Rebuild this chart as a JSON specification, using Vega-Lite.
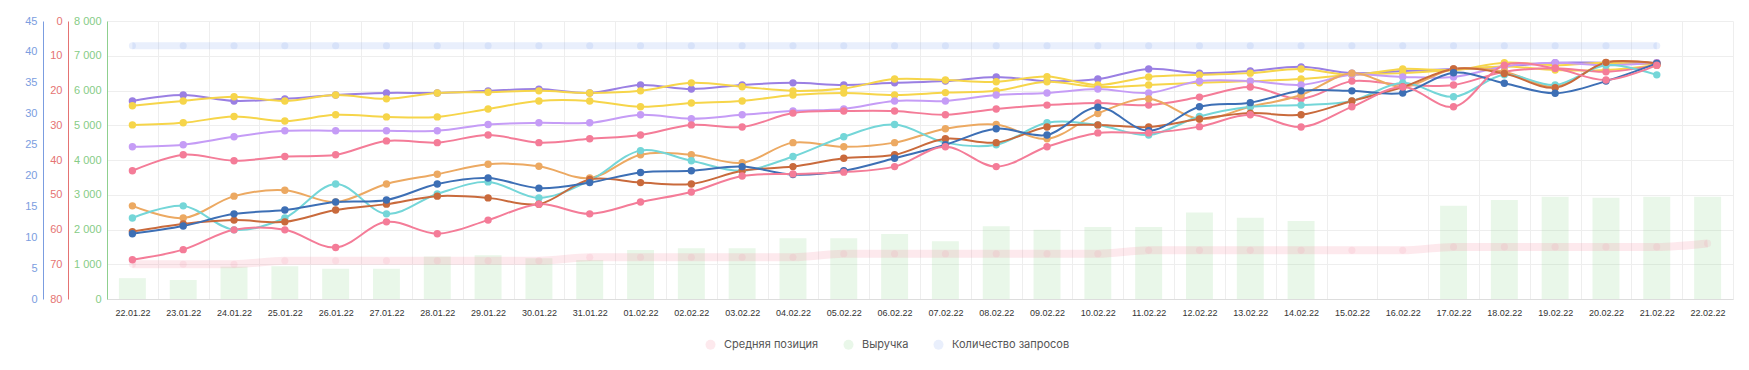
{
  "$schema": "https://vega.github.io/schema/vega-lite/v6.json",
  "width": 1626,
  "height": 278,
  "autosize": {"type": "none"},
  "padding": {"left": 107, "top": 21, "right": 16, "bottom": 71},
  "background": "white",
  "config": {
    "view": {"stroke": null},
    "font": "Liberation Sans",
    "axis": {"ticks": false, "tickSize": 0, "title": null}
  },
  "datasets": {
    "main": [
      {"d": "22.01.22", "rev": 600, "pos": 70, "q": 41},
      {"d": "23.01.22", "rev": 550, "pos": 70, "q": 41},
      {"d": "24.01.22", "rev": 930, "pos": 70, "q": 41},
      {"d": "25.01.22", "rev": 940, "pos": 69, "q": 41},
      {"d": "26.01.22", "rev": 870, "pos": 69, "q": 41},
      {"d": "27.01.22", "rev": 870, "pos": 69, "q": 41},
      {"d": "28.01.22", "rev": 1220, "pos": 69, "q": 41},
      {"d": "29.01.22", "rev": 1260, "pos": 69, "q": 41},
      {"d": "30.01.22", "rev": 1170, "pos": 69, "q": 41},
      {"d": "31.01.22", "rev": 1120, "pos": 68, "q": 41},
      {"d": "01.02.22", "rev": 1410, "pos": 68, "q": 41},
      {"d": "02.02.22", "rev": 1460, "pos": 68, "q": 41},
      {"d": "03.02.22", "rev": 1460, "pos": 68, "q": 41},
      {"d": "04.02.22", "rev": 1750, "pos": 68, "q": 41},
      {"d": "05.02.22", "rev": 1750, "pos": 67, "q": 41},
      {"d": "06.02.22", "rev": 1870, "pos": 67, "q": 41},
      {"d": "07.02.22", "rev": 1660, "pos": 67, "q": 41},
      {"d": "08.02.22", "rev": 2090, "pos": 67, "q": 41},
      {"d": "09.02.22", "rev": 1990, "pos": 67, "q": 41},
      {"d": "10.02.22", "rev": 2070, "pos": 67, "q": 41},
      {"d": "11.02.22", "rev": 2070, "pos": 66, "q": 41},
      {"d": "12.02.22", "rev": 2490, "pos": 66, "q": 41},
      {"d": "13.02.22", "rev": 2340, "pos": 66, "q": 41},
      {"d": "14.02.22", "rev": 2245, "pos": 66, "q": 41},
      {"d": "15.02.22", "rev": 0, "pos": 66, "q": 41},
      {"d": "16.02.22", "rev": 0, "pos": 66, "q": 41},
      {"d": "17.02.22", "rev": 2685, "pos": 65, "q": 41},
      {"d": "18.02.22", "rev": 2850, "pos": 65, "q": 41},
      {"d": "19.02.22", "rev": 2945, "pos": 65, "q": 41},
      {"d": "20.02.22", "rev": 2915, "pos": 65, "q": 41},
      {"d": "21.02.22", "rev": 2945, "pos": 65, "q": 41},
      {"d": "22.02.22", "rev": 2945, "pos": 64}
    ],
    "lines": [
      {"d": "22.01.22", "a": 23.0, "b": 24.4, "c": 29.9, "e": 36.2, "f": 43.1, "g": 53.2, "h": 56.7, "i": 60.6, "j": 61.2, "k": 68.7},
      {"d": "23.01.22", "a": 21.3, "b": 23.0, "c": 29.3, "e": 35.6, "f": 38.5, "g": 56.7, "h": 53.2, "i": 58.4, "j": 59.0, "k": 65.8},
      {"d": "24.01.22", "a": 23.0, "b": 21.8, "c": 27.5, "e": 33.3, "f": 40.2, "g": 50.4, "h": 60.1, "i": 57.3, "j": 55.5, "k": 60.1},
      {"d": "25.01.22", "a": 22.4, "b": 23.0, "c": 28.8, "e": 31.6, "f": 39.0, "g": 48.7, "h": 56.7, "i": 57.8, "j": 54.4, "k": 60.1},
      {"d": "26.01.22", "a": 21.3, "b": 21.3, "c": 27.0, "e": 31.6, "f": 38.5, "g": 52.1, "h": 46.9, "i": 54.4, "j": 52.1, "k": 65.2},
      {"d": "27.01.22", "a": 20.7, "b": 22.4, "c": 27.6, "e": 31.6, "f": 34.5, "g": 46.9, "h": 55.5, "i": 52.7, "j": 51.5, "k": 57.8},
      {"d": "28.01.22", "a": 20.7, "b": 20.7, "c": 27.6, "e": 31.6, "f": 35.0, "g": 44.1, "h": 49.8, "i": 50.4, "j": 46.9, "k": 61.2},
      {"d": "29.01.22", "a": 20.1, "b": 20.5, "c": 25.3, "e": 29.8, "f": 32.8, "g": 41.2, "h": 46.3, "i": 50.9, "j": 45.2, "k": 57.3},
      {"d": "30.01.22", "a": 19.6, "b": 20.1, "c": 23.0, "e": 29.3, "f": 35.0, "g": 41.8, "h": 50.9, "i": 52.7, "j": 48.1, "k": 52.7},
      {"d": "31.01.22", "a": 20.7, "b": 20.7, "c": 23.0, "e": 29.3, "f": 33.9, "g": 45.2, "h": 45.9, "i": 45.6, "j": 46.5, "k": 55.5},
      {"d": "01.02.22", "a": 18.4, "b": 20.1, "c": 24.7, "e": 27.0, "f": 32.8, "g": 38.5, "h": 37.3, "i": 46.5, "j": 43.6, "k": 52.1},
      {"d": "02.02.22", "a": 19.6, "b": 17.8, "c": 23.6, "e": 28.1, "f": 29.9, "g": 38.5, "h": 40.2, "i": 46.9, "j": 43.1, "k": 49.2},
      {"d": "03.02.22", "a": 18.4, "b": 18.9, "c": 23.0, "e": 27.0, "f": 30.5, "g": 40.8, "h": 43.1, "i": 43.1, "j": 41.9, "k": 44.6},
      {"d": "04.02.22", "a": 17.8, "b": 20.1, "c": 21.3, "e": 25.9, "f": 26.5, "g": 35.0, "h": 39.0, "i": 41.9, "j": 44.2, "k": 44.0},
      {"d": "05.02.22", "a": 18.4, "b": 19.4, "c": 20.7, "e": 25.3, "f": 25.9, "g": 36.2, "h": 33.3, "i": 39.5, "j": 43.1, "k": 43.5},
      {"d": "06.02.22", "a": 17.8, "b": 16.7, "c": 21.3, "e": 23.0, "f": 25.9, "g": 35.0, "h": 29.8, "i": 38.5, "j": 39.5, "k": 41.9},
      {"d": "07.02.22", "a": 17.3, "b": 17.0, "c": 20.6, "e": 23.0, "f": 27.0, "g": 31.0, "h": 35.0, "i": 33.9, "j": 35.6, "k": 36.2},
      {"d": "08.02.22", "a": 16.1, "b": 17.5, "c": 20.1, "e": 21.3, "f": 25.3, "g": 29.8, "h": 35.6, "i": 35.0, "j": 31.0, "k": 41.9},
      {"d": "09.02.22", "a": 17.3, "b": 16.0, "c": 17.5, "e": 20.7, "f": 24.2, "g": 33.9, "h": 29.3, "i": 30.5, "j": 32.8, "k": 36.2},
      {"d": "10.02.22", "a": 16.7, "b": 18.4, "c": 19.0, "e": 19.6, "f": 23.6, "g": 26.6, "h": 29.9, "i": 29.9, "j": 24.8, "k": 32.2},
      {"d": "11.02.22", "a": 13.8, "b": 16.1, "c": 18.4, "e": 20.7, "f": 24.2, "g": 22.4, "h": 32.8, "i": 30.5, "j": 31.6, "k": 32.2},
      {"d": "12.02.22", "a": 15.0, "b": 15.5, "c": 17.8, "e": 17.3, "f": 21.9, "g": 28.2, "h": 27.5, "i": 28.2, "j": 24.7, "k": 30.4},
      {"d": "13.02.22", "a": 14.4, "b": 15.0, "c": 17.3, "e": 17.3, "f": 19.0, "g": 24.7, "h": 24.7, "i": 26.5, "j": 23.5, "k": 27.0},
      {"d": "14.02.22", "a": 13.2, "b": 13.8, "c": 16.7, "e": 18.4, "f": 22.4, "g": 21.3, "h": 24.2, "i": 27.0, "j": 20.1, "k": 30.5},
      {"d": "15.02.22", "a": 15.0, "b": 15.5, "c": 15.5, "e": 15.5, "f": 17.3, "g": 15.0, "h": 23.0, "i": 23.0, "j": 20.1, "k": 24.7},
      {"d": "16.02.22", "a": 14.4, "b": 13.8, "c": 15.0, "e": 16.1, "f": 18.4, "g": 19.0, "h": 17.8, "i": 19.0, "j": 20.7, "k": 19.0},
      {"d": "17.02.22", "a": 13.8, "b": 14.1, "c": 14.1, "e": 16.1, "f": 18.4, "g": 13.8, "h": 21.8, "i": 13.8, "j": 14.9, "k": 24.7},
      {"d": "18.02.22", "a": 13.1, "b": 12.0, "c": 13.1, "e": 13.1, "f": 14.6, "g": 14.6, "h": 15.5, "i": 15.1, "j": 17.9, "k": 12.7},
      {"d": "19.02.22", "a": 12.0, "b": 12.7, "c": 14.1, "e": 12.0, "f": 13.6, "g": 18.9, "h": 18.4, "i": 19.2, "j": 20.8, "k": 13.6},
      {"d": "20.02.22", "a": 12.0, "b": 12.0, "c": 14.1, "e": 12.7, "f": 14.6, "g": 12.0, "h": 12.7, "i": 11.9, "j": 17.3, "k": 17.0},
      {"d": "21.02.22", "a": 12.0, "b": 12.7, "c": 12.7, "e": 12.0, "f": 12.7, "g": 12.2, "h": 15.5, "i": 12.2, "j": 12.2, "k": 12.7}
    ]
  },
  "encoding": {
    "x": {
      "field": "d",
      "type": "ordinal",
      "sort": null,
      "scale": {
        "type": "band",
        "paddingInner": 0,
        "paddingOuter": 0,
        "domain": ["22.01.22", "23.01.22", "24.01.22", "25.01.22", "26.01.22", "27.01.22", "28.01.22", "29.01.22", "30.01.22", "31.01.22", "01.02.22", "02.02.22", "03.02.22", "04.02.22", "05.02.22", "06.02.22", "07.02.22", "08.02.22", "09.02.22", "10.02.22", "11.02.22", "12.02.22", "13.02.22", "14.02.22", "15.02.22", "16.02.22", "17.02.22", "18.02.22", "19.02.22", "20.02.22", "21.02.22", "22.02.22"]
      },
      "axis": {
        "title": null,
        "labelAngle": 0,
        "labelFontSize": 9,
        "labelColor": "#333333",
        "labelPadding": 9,
        "ticks": false,
        "tickSize": 0,
        "grid": true,
        "tickBand": "extent",
        "gridColor": "#eeeeee",
        "domainColor": "#dddddd"
      }
    }
  },
  "layer": [
    {
      "data": {"name": "main"},
      "mark": {"type": "bar", "width": {"band": 0.53}, "opacity": 0.2},
      "encoding": {
        "y": {
          "field": "rev",
          "type": "quantitative",
          "scale": {"domain": [0, 8000], "nice": false},
          "axis": {
            "orient": "left",
            "offset": 0,
            "title": null,
            "values": [0, 1000, 2000, 3000, 4000, 5000, 6000, 7000, 8000],
            "labelExpr": "replace(format(datum.value, ','), ',', ' ')",
            "labelFontSize": 11,
            "labelColor": "#86cc86",
            "labelPadding": 6,
            "domainColor": "#8fd08f",
            "grid": true,
            "gridColor": "#eeeeee"
          }
        },
        "color": {
          "datum": "Выручка",
          "type": "nominal",
          "scale": {
            "domain": ["Средняя позиция", "Выручка", "Количество запросов"],
            "range": ["#f48fa5", "#8fd68f", "#93aef0"]
          },
          "legend": {
            "title": null,
            "orient": "none",
            "direction": "horizontal",
            "legendX": 598,
            "legendY": 318,
            "symbolType": "circle",
            "symbolSize": 100,
            "symbolOpacity": 0.22,
            "symbolStrokeWidth": 0,
            "labelFont": "Inter",
            "labelFontSize": 11,
            "labelColor": "#555555",
            "labelOffset": 8,
            "columnPadding": 24
          }
        }
      }
    },
    {
      "layer": [
        {
          "data": {"name": "main"},
          "mark": {"type": "line", "strokeWidth": 8, "opacity": 0.2, "interpolate": "monotone"},
          "encoding": {
            "y": {"field": "pos", "type": "quantitative", "scale": {"domain": [0, 80], "reverse": true, "nice": false},
              "axis": {"orient": "left", "offset": 39, "title": null, "values": [0, 10, 20, 30, 40, 50, 60, 70, 80], "labelFontSize": 11, "labelColor": "#e57373", "labelPadding": 6, "domainColor": "#e57373", "grid": false}},
            "color": {"datum": "Средняя позиция", "type": "nominal"}
          }
        },
        {
          "data": {"name": "main"},
          "mark": {"type": "circle", "size": 50, "opacity": 0.15},
          "encoding": {
            "y": {"field": "pos", "type": "quantitative", "scale": {"domain": [0, 80], "reverse": true, "nice": false},
              "axis": {"orient": "left", "offset": 39, "title": null, "values": [0, 10, 20, 30, 40, 50, 60, 70, 80], "labelFontSize": 11, "labelColor": "#e57373", "labelPadding": 6, "domainColor": "#e57373", "grid": false}},
            "color": {"datum": "Средняя позиция", "type": "nominal"}
          }
        },
        {
          "data": {"name": "lines"},
          "transform": [{"fold": ["a", "b", "c", "e", "f", "g", "h", "i", "j", "k"], "as": ["key", "v"]}],
          "mark": {"type": "line", "strokeWidth": 2, "interpolate": "catmull-rom"},
          "encoding": {
            "y": {"field": "v", "type": "quantitative", "scale": {"domain": [0, 80], "reverse": true, "nice": false},
              "axis": {"orient": "left", "offset": 39, "title": null, "values": [0, 10, 20, 30, 40, 50, 60, 70, 80], "labelFontSize": 11, "labelColor": "#e57373", "labelPadding": 6, "domainColor": "#e57373", "grid": false}},
            "stroke": {"field": "key", "type": "nominal", "legend": null,
              "scale": {"domain": ["a", "b", "c", "e", "f", "g", "h", "i", "j", "k"], "range": ["#9a7fe3", "#f6d54a", "#f6d54a", "#c59cf6", "#f47c98", "#eca962", "#74d6d8", "#c96a3c", "#3d6fb5", "#f47c98"]}}
          }
        },
        {
          "data": {"name": "lines"},
          "transform": [{"fold": ["a", "b", "c", "e", "f", "g", "h", "i", "j", "k"], "as": ["key", "v"]}],
          "mark": {"type": "circle", "size": 55, "opacity": 1},
          "encoding": {
            "y": {"field": "v", "type": "quantitative", "scale": {"domain": [0, 80], "reverse": true, "nice": false},
              "axis": {"orient": "left", "offset": 39, "title": null, "values": [0, 10, 20, 30, 40, 50, 60, 70, 80], "labelFontSize": 11, "labelColor": "#e57373", "labelPadding": 6, "domainColor": "#e57373", "grid": false}},
            "fill": {"field": "key", "type": "nominal", "legend": null,
              "scale": {"domain": ["a", "b", "c", "e", "f", "g", "h", "i", "j", "k"], "range": ["#9a7fe3", "#f6d54a", "#f6d54a", "#c59cf6", "#f47c98", "#eca962", "#74d6d8", "#c96a3c", "#3d6fb5", "#f47c98"]}}
          }
        }
      ]
    },
    {
      "layer": [
        {
          "data": {"name": "main"},
          "mark": {"type": "line", "strokeWidth": 7, "opacity": 0.2},
          "encoding": {
            "y": {"field": "q", "type": "quantitative", "scale": {"domain": [0, 45], "nice": false},
              "axis": {"orient": "left", "offset": 64, "title": null, "values": [0, 5, 10, 15, 20, 25, 30, 35, 40, 45], "labelFontSize": 11, "labelColor": "#7b9de0", "labelPadding": 6, "domainColor": "#7b9de0", "grid": false}},
            "color": {"datum": "Количество запросов", "type": "nominal"}
          }
        },
        {
          "data": {"name": "main"},
          "mark": {"type": "circle", "size": 50, "opacity": 0.2},
          "encoding": {
            "y": {"field": "q", "type": "quantitative", "scale": {"domain": [0, 45], "nice": false},
              "axis": {"orient": "left", "offset": 64, "title": null, "values": [0, 5, 10, 15, 20, 25, 30, 35, 40, 45], "labelFontSize": 11, "labelColor": "#7b9de0", "labelPadding": 6, "domainColor": "#7b9de0", "grid": false}},
            "color": {"datum": "Количество запросов", "type": "nominal"}
          }
        }
      ]
    }
  ],
  "resolve": {"scale": {"y": "independent"}}
}
